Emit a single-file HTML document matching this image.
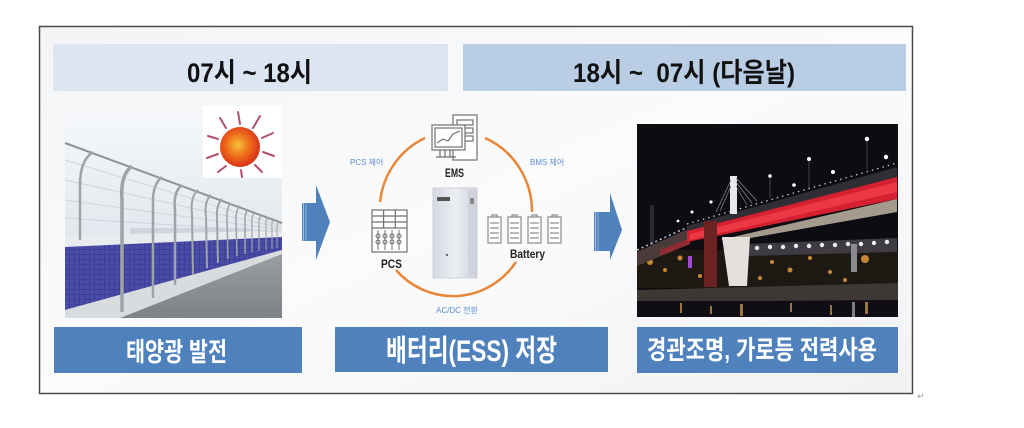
<!DOCTYPE html>
<html><head><meta charset="utf-8">
<style>
html,body{margin:0;padding:0;background:#fff;}
svg{display:block;}
</style></head>
<body>
<svg width="1024" height="428" viewBox="0 0 1024 428" xmlns="http://www.w3.org/2000/svg">
<defs>
  <linearGradient id="frameBg" x1="0" y1="0" x2="1" y2="1">
    <stop offset="0" stop-color="#f3f4f6"/>
    <stop offset="0.5" stop-color="#fbfbfc"/>
    <stop offset="1" stop-color="#f1f2f4"/>
  </linearGradient>
  <linearGradient id="sky" x1="0" y1="0" x2="0" y2="1">
    <stop offset="0" stop-color="#f6f8fa"/>
    <stop offset="1" stop-color="#d4dde6"/>
  </linearGradient>
  <radialGradient id="sun" cx="0.45" cy="0.45" r="0.6">
    <stop offset="0" stop-color="#f5c23a"/>
    <stop offset="0.5" stop-color="#ee6a1a"/>
    <stop offset="1" stop-color="#d6281a"/>
  </radialGradient>
  <pattern id="cells" width="5" height="5" patternUnits="userSpaceOnUse">
    <rect width="5" height="5" fill="#3d3f98"/>
    <rect x="0" y="0" width="4" height="4" fill="#4a4ca8"/>
  </pattern>
  <linearGradient id="cab" x1="0" y1="0" x2="1" y2="0">
    <stop offset="0" stop-color="#d7d9e3"/>
    <stop offset="0.5" stop-color="#eceef4"/>
    <stop offset="1" stop-color="#cfd2dc"/>
  </linearGradient>
  <linearGradient id="road" x1="0" y1="0" x2="0" y2="1">
    <stop offset="0" stop-color="#9c9fa3"/>
    <stop offset="1" stop-color="#7e8185"/>
  </linearGradient>
</defs>

<!-- outer frame -->
<rect x="39.5" y="26.5" width="873" height="367" fill="url(#frameBg)" stroke="#4a4a4a" stroke-width="1.5"/>

<!-- headers -->
<rect x="53" y="44" width="395" height="47" fill="#dce6f2"/>
<rect x="463" y="44" width="443" height="47" fill="#b9cde5"/>
<text x="187" y="82" font-family="'Liberation Sans','Noto Sans CJK KR',sans-serif" font-weight="bold" font-size="27" fill="#111" textLength="125" lengthAdjust="spacingAndGlyphs">07시 ~ 18시</text>
<text x="573" y="82" font-family="'Liberation Sans','Noto Sans CJK KR',sans-serif" font-weight="bold" font-size="27" fill="#111" textLength="222" lengthAdjust="spacingAndGlyphs" xml:space="preserve">18시 ~  07시 (다음날)</text>

<!-- LEFT IMAGE: fence -->
<rect x="65" y="112" width="217" height="206" fill="url(#sky)"/>
<rect x="130" y="228" width="120" height="8" fill="#c6ccd6" opacity="0.7"/>
<polygon points="120,318 282,250 282,318" fill="url(#road)"/>
<polygon points="65,235 282,231 282,238 65,247" fill="#e9ecef"/>
<polygon points="65,247 282,237 282,250 65,310" fill="url(#cells)"/>
<polygon points="65,310 282,250 282,254 120,318 65,318" fill="#d9dcdf"/>
<g stroke="#cfd4da" stroke-width="1" fill="none">
  <line x1="65" y1="160" x2="282" y2="226"/>
  <line x1="65" y1="180" x2="282" y2="228"/>
  <line x1="65" y1="200" x2="282" y2="230"/>
  <line x1="65" y1="218" x2="282" y2="232"/>
</g>
<line x1="65" y1="143" x2="282" y2="223" stroke="#8e9398" stroke-width="2"/>
<g stroke="#9ea3a8" fill="none">
  <path d="M93,152 Q80,160 80,185 L80,240" stroke-width="2.5"/>
  <path d="M132,166 Q120,175 122,200 L122,312" stroke-width="3.5"/>
  <path d="M162,177 Q152,185 153,205 L153,298" stroke-width="2.5"/>
  <path d="M182,185 Q173,192 175,210 L175,285" stroke-width="2.5"/>
  <path d="M198,190 Q190,197 192,214 L193,275" stroke-width="2"/>
  <path d="M211,195 Q204,201 206,217 L207,268" stroke-width="2"/>
  <path d="M222,199 Q216,205 217,219 L218,263" stroke-width="2"/>
  <path d="M231,203 Q226,208 227,221 L228,259" stroke-width="1.5"/>
  <path d="M240,206 Q235,211 236,223 L237,256" stroke-width="1.5"/>
  <path d="M248,209 Q244,214 245,224 L245,254" stroke-width="1.5"/>
  <path d="M255,212 Q251,216 252,225 L252,252" stroke-width="1.2"/>
  <path d="M262,215 Q258,218 259,226 L259,251" stroke-width="1.2"/>
  <path d="M268,217 Q265,220 266,227 L266,250" stroke-width="1"/>
  <path d="M274,219 Q271,222 272,228 L272,249" stroke-width="1"/>
  <path d="M279,221 Q277,223 277,229 L277,248" stroke-width="1"/>
</g>
<!-- sun box -->
<rect x="203" y="106" width="79" height="72" fill="#ffffff"/>
<g stroke="#b0506e" stroke-width="2" stroke-linecap="round">
  <line x1="240" y1="124" x2="238" y2="112"/>
  <line x1="253" y1="128" x2="260" y2="116"/>
  <line x1="262" y1="138" x2="273" y2="133"/>
  <line x1="263" y1="152" x2="274" y2="156"/>
  <line x1="255" y1="165" x2="262" y2="172"/>
  <line x1="241" y1="170" x2="242" y2="177"/>
  <line x1="226" y1="166" x2="218" y2="172"/>
  <line x1="218" y1="154" x2="207" y2="158"/>
  <line x1="218" y1="139" x2="208" y2="136"/>
  <line x1="226" y1="128" x2="220" y2="118"/>
</g>
<circle cx="240" cy="147" r="20" fill="url(#sun)"/>

<!-- arrow 1 -->
<polygon points="302,203 316,203 316,185 330,222 316,260 316,241 302,241" fill="#4f81bd"/>
<line x1="303.5" y1="203" x2="303.5" y2="241" stroke="#a9c1e0" stroke-width="1"/>
<line x1="306" y1="203" x2="306" y2="241" stroke="#8fb0d8" stroke-width="1"/>

<!-- arrow 2 -->
<polygon points="594,212 610,212 610,193 622,230 610,260 610,251 594,251" fill="#4f81bd"/>
<line x1="595.5" y1="212" x2="595.5" y2="251" stroke="#a9c1e0" stroke-width="1"/>
<line x1="598" y1="212" x2="598" y2="251" stroke="#8fb0d8" stroke-width="1"/>

<!-- MIDDLE: ESS diagram -->
<g fill="none" stroke="#e8873a" stroke-width="2.5">
  <path d="M425,138 A77,80 0 0 0 380,202"/>
  <path d="M485,138 A77,80 0 0 1 532,212"/>
  <path d="M396,270 A77,80 0 0 0 516,262"/>
</g>
<g font-family="'Liberation Sans','Noto Sans CJK KR',sans-serif" font-size="8" fill="#5b8fd0">
  <text x="350" y="165">PCS 제어</text>
  <text x="530" y="165">BMS 제어</text>
  <text x="436" y="313">AC/DC 전환</text>
</g>
<g stroke="#707070" stroke-width="1.2" fill="#fff">
  <rect x="453" y="115" width="24" height="45"/>
  <rect x="457" y="120" width="16" height="5"/>
  <rect x="457" y="128" width="16" height="5"/>
  <rect x="457" y="136" width="16" height="5"/>
  <rect x="432" y="125" width="33" height="25"/>
  <rect x="435" y="128" width="27" height="19"/>
  <polyline points="437,143 443,139 448,141 453,134 460,131" fill="none"/>
  <line x1="440" y1="150" x2="440" y2="157"/>
  <line x1="445" y1="150" x2="445" y2="157"/>
  <line x1="450" y1="150" x2="450" y2="157"/>
  <line x1="436" y1="157" x2="456" y2="157"/>
</g>
<text x="445" y="177" font-family="'Liberation Sans',sans-serif" font-weight="bold" font-size="12" fill="#222" textLength="19" lengthAdjust="spacingAndGlyphs">EMS</text>
<rect x="433" y="188" width="44" height="90" fill="url(#cab)" stroke="#c4c7d2" stroke-width="0.8"/>
<rect x="468" y="190" width="8" height="86" fill="#cfd2dc"/>
<rect x="437" y="197" width="13" height="4" fill="#555"/>
<rect x="470" y="198" width="4" height="6" fill="#888"/>
<circle cx="447" cy="255" r="1.2" fill="#666"/>
<g stroke="#707070" stroke-width="1.2" fill="#fff">
  <rect x="372" y="210" width="35" height="42"/>
  <line x1="372" y1="216" x2="407" y2="216"/>
  <line x1="372" y1="222" x2="407" y2="222"/>
  <line x1="372" y1="228" x2="407" y2="228"/>
  <line x1="383.6" y1="210" x2="383.6" y2="228"/>
  <line x1="395.3" y1="210" x2="395.3" y2="228"/>
  <g fill="none" stroke-width="1">
    <line x1="378" y1="230" x2="378" y2="250"/>
    <line x1="385" y1="230" x2="385" y2="250"/>
    <line x1="392" y1="230" x2="392" y2="250"/>
    <line x1="399" y1="230" x2="399" y2="250"/>
    <circle cx="378" cy="236" r="2"/><circle cx="378" cy="242" r="2"/>
    <circle cx="385" cy="236" r="2"/><circle cx="385" cy="242" r="2"/>
    <circle cx="392" cy="236" r="2"/><circle cx="392" cy="242" r="2"/>
    <circle cx="399" cy="236" r="2"/><circle cx="399" cy="242" r="2"/>
  </g>
</g>
<text x="381" y="268" font-family="'Liberation Sans',sans-serif" font-weight="bold" font-size="12" fill="#222" textLength="21" lengthAdjust="spacingAndGlyphs">PCS</text>
<g stroke="#8a8a8a" stroke-width="1.2" fill="#fff">
  <g transform="translate(488,217)"><rect x="4" y="-2" width="5" height="2"/><rect x="0" y="0" width="13" height="26"/><line x1="2" y1="6" x2="11" y2="6"/><line x1="2" y1="11" x2="11" y2="11"/><line x1="2" y1="16" x2="11" y2="16"/><line x1="2" y1="21" x2="11" y2="21"/></g>
  <g transform="translate(508,217)"><rect x="4" y="-2" width="5" height="2"/><rect x="0" y="0" width="13" height="26"/><line x1="2" y1="6" x2="11" y2="6"/><line x1="2" y1="11" x2="11" y2="11"/><line x1="2" y1="16" x2="11" y2="16"/><line x1="2" y1="21" x2="11" y2="21"/></g>
  <g transform="translate(528,217)"><rect x="4" y="-2" width="5" height="2"/><rect x="0" y="0" width="13" height="26"/><line x1="2" y1="6" x2="11" y2="6"/><line x1="2" y1="11" x2="11" y2="11"/><line x1="2" y1="16" x2="11" y2="16"/><line x1="2" y1="21" x2="11" y2="21"/></g>
  <g transform="translate(548,217)"><rect x="4" y="-2" width="5" height="2"/><rect x="0" y="0" width="13" height="26"/><line x1="2" y1="6" x2="11" y2="6"/><line x1="2" y1="11" x2="11" y2="11"/><line x1="2" y1="16" x2="11" y2="16"/><line x1="2" y1="21" x2="11" y2="21"/></g>
</g>
<text x="510" y="258" font-family="'Liberation Sans',sans-serif" font-weight="bold" font-size="12" fill="#222" textLength="35" lengthAdjust="spacingAndGlyphs">Battery</text>

<!-- RIGHT: night bridge photo -->
<rect x="637" y="124" width="261" height="193" fill="#0c0c11"/>
<rect x="637" y="250" width="261" height="38" fill="#1e1812"/>
<g fill="#e09a3a" opacity="0.85">
  <circle cx="650" cy="262" r="3"/><circle cx="665" cy="270" r="2"/><circle cx="680" cy="258" r="2.5"/>
  <circle cx="700" cy="276" r="2"/><circle cx="772" cy="262" r="2"/><circle cx="790" cy="270" r="2.5"/>
  <circle cx="810" cy="258" r="2"/><circle cx="830" cy="272" r="2"/><circle cx="865" cy="259" r="4"/>
  <circle cx="760" cy="278" r="2"/><circle cx="845" cy="280" r="2"/>
</g>
<rect x="688" y="256" width="4" height="12" fill="#a04ad0"/>
<!-- second bridge -->
<polygon points="747,244 897,238 897,252 747,256" fill="#3e3c42"/>
<g fill="#e8eef8">
  <circle cx="757" cy="248" r="2.2"/><circle cx="770" cy="247" r="2.2"/><circle cx="783" cy="247" r="2.2"/>
  <circle cx="796" cy="246" r="2.2"/><circle cx="809" cy="246" r="2.2"/><circle cx="822" cy="245" r="2.2"/>
  <circle cx="835" cy="245" r="2.2"/><circle cx="848" cy="244" r="2.2"/><circle cx="861" cy="244" r="2.2"/>
  <circle cx="874" cy="243" r="2.2"/><circle cx="887" cy="242" r="2.2"/>
</g>
<rect x="851" y="244" width="6" height="28" fill="#8a8a90"/>
<rect x="650" y="205" width="4" height="46" fill="#2a2a30"/>
<polygon points="637,290 898,283 898,300 637,302" fill="#3e3834"/>
<rect x="637" y="301" width="261" height="16" fill="#0e0e14"/>
<g fill="#d8a050" opacity="0.7">
  <rect x="680" y="303" width="2" height="10"/><rect x="740" y="304" width="3" height="12"/>
  <rect x="790" y="303" width="2" height="9"/><rect x="830" y="305" width="2" height="10"/>
  <rect x="865" y="302" width="3" height="12"/><rect x="710" y="306" width="2" height="8"/>
</g>
<rect x="852" y="302" width="3" height="15" fill="#c8c8d0" opacity="0.6"/>
<polygon points="637,252 690,228 690,244 637,266" fill="#4a3a3a"/>
<polygon points="660,250 690,238 690,244 660,256" fill="#a02830" opacity="0.8"/>
<line x1="637" y1="250" x2="690" y2="226" stroke="#b8c8e0" stroke-width="1.5" stroke-dasharray="2,3"/>
<polygon points="687,226 897,167 897,177 687,231" fill="#2e2e34"/>
<line x1="687" y1="224" x2="897" y2="163" stroke="#d0d4dc" stroke-width="1.2" stroke-dasharray="1.5,4"/>
<polygon points="687,231 897,177 897,199 687,242" fill="#d42030"/>
<polygon points="690,234 897,182 897,192 690,240" fill="#ff4a55" opacity="0.55"/>
<polygon points="720,240 897,199 897,212 745,239" fill="#a59a8e"/>
<rect x="704" y="221" width="13" height="66" fill="#6b2222"/>
<polygon points="722,237 750,237 747,286 729,286" fill="#e6e0dc"/>
<rect x="730" y="176" width="7" height="38" fill="#e8e8ec"/>
<g stroke="#8a8c94" stroke-width="0.7">
  <line x1="736" y1="178" x2="757" y2="201"/><line x1="736" y1="182" x2="752" y2="203"/>
  <line x1="736" y1="186" x2="747" y2="205"/><line x1="731" y1="180" x2="716" y2="212"/>
  <line x1="731" y1="186" x2="720" y2="211"/>
</g>
<g fill="#ffffff">
  <circle cx="867" cy="139" r="2.2"/><circle cx="809" cy="159" r="2"/><circle cx="770" cy="176" r="1.8"/>
  <circle cx="833" cy="172" r="2"/><circle cx="886" cy="157" r="2.2"/><circle cx="794" cy="185" r="1.8"/>
  <circle cx="711" cy="202" r="1.6"/><circle cx="692" cy="212" r="1.5"/><circle cx="678" cy="221" r="1.4"/>
</g>
<g stroke="#555" stroke-width="0.8">
  <line x1="867" y1="141" x2="867" y2="170"/><line x1="809" y1="161" x2="809" y2="188"/>
  <line x1="770" y1="178" x2="770" y2="198"/>
</g>

<!-- bottom label boxes -->
<rect x="54" y="327" width="248" height="46" fill="#4f81bd"/>
<rect x="335" y="327" width="273" height="45" fill="#4f81bd"/>
<rect x="637" y="327" width="261" height="46" fill="#4f81bd"/>
<g font-family="'Liberation Sans','Noto Sans CJK KR',sans-serif" font-weight="bold" fill="#ffffff">
  <text x="126" y="361" font-size="26" textLength="101" lengthAdjust="spacingAndGlyphs">태양광 발전</text>
  <text x="386" y="361" font-size="30" textLength="171" lengthAdjust="spacingAndGlyphs">배터리(ESS) 저장</text>
  <text x="647" y="359" font-size="26" textLength="230" lengthAdjust="spacingAndGlyphs">경관조명, 가로등 전력사용</text>
</g>

<text x="917" y="399" font-family="'DejaVu Sans',sans-serif" font-size="9" fill="#999">↵</text>
</svg>
</body></html>
